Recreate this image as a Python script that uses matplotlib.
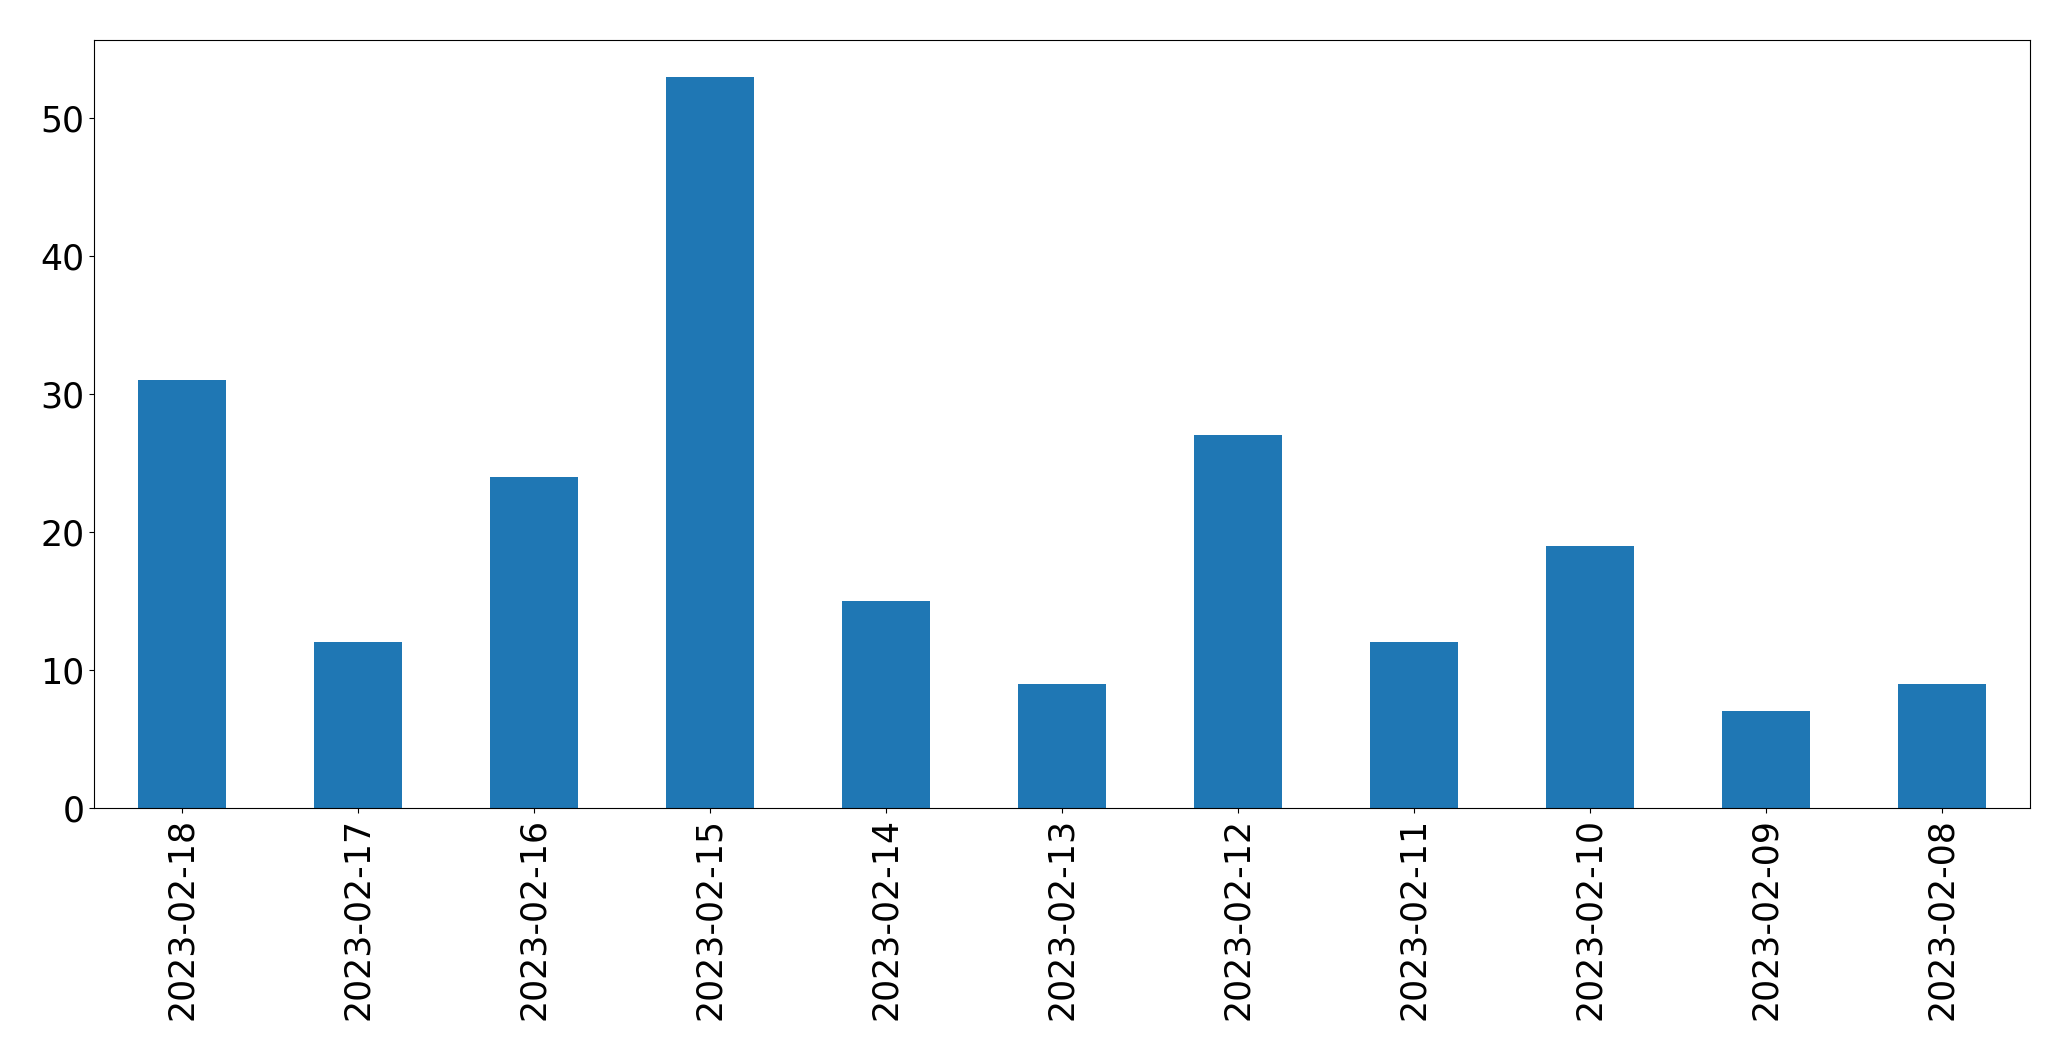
import matplotlib
matplotlib.use("Agg")
import pandas as pd
from matplotlib import pyplot as plt

dates = ["2023-02-18", "2023-02-17", "2023-02-16", "2023-02-15", "2023-02-14",
         "2023-02-13", "2023-02-12", "2023-02-11", "2023-02-10", "2023-02-09",
         "2023-02-08"]
counts = [31, 12, 24, 53, 15, 9, 27, 12, 19, 7, 9]

s = pd.Series(counts, index=dates)

fig = plt.figure(figsize=(20.71, 10.61), dpi=100)
ax = fig.add_axes([94/2071, 1 - 808/1061, (2030-94)/2071, (808-40)/1061])
s.plot(kind="bar", ax=ax, color="#1f77b4", fontsize=25)
ax.tick_params(labelsize=25)
fig.savefig("out.png", dpi=100)
